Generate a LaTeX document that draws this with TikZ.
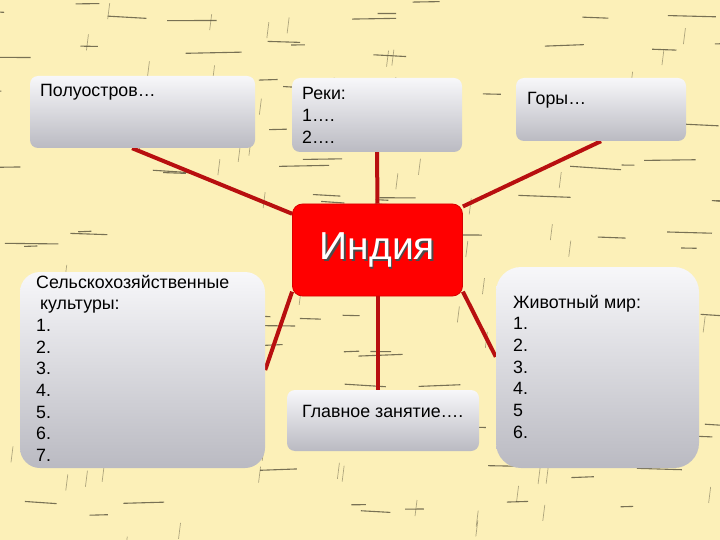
\documentclass[tikz,border=0pt]{standalone}
\usepackage{fontspec}
\setmainfont{Liberation Sans}
\usetikzlibrary{backgrounds}

\definecolor{paperbg}{rgb}{0.99,0.94,0.72}
\definecolor{sketchln}{rgb}{0.30,0.28,0.20}
\definecolor{linkred}{rgb}{0.72,0.06,0.06}
\definecolor{boxtop}{rgb}{0.97,0.97,0.98}
\definecolor{boxbot}{rgb}{0.73,0.73,0.76}

\tikzset{
    topicbox/.style={rounded corners=#1, inner sep=0pt, top color=boxtop, bottom color=boxbot, draw=none},
    topicbox/.default=8pt,
    boxtext/.style={anchor=base west, align=left, inner sep=0pt, font=\fontsize{17.8}{21.7}\selectfont},
    link/.style={line width=4pt, color=linkred},
    hline/.style={line width=1.1pt, color=sketchln, opacity=0.75},
    vtick/.style={line width=0.7pt, color=sketchln, opacity=0.45}
}

\begin{document}
\begin{tikzpicture}[x=1pt, y=-1pt]
    \useasboundingbox (0,0) rectangle (720,540);
    % paper background
    \begin{scope}[on background layer]
        \clip (0,0) rectangle (720,540);
        \fill[paperbg] (0,0) rectangle (720,540);
        \pgfmathsetseed{31}
        \foreach \row in {12,50,...,540}{
            \foreach \k in {1,...,9}{
                \pgfmathsetmacro\xa{rnd*760-30}
                \pgfmathsetmacro\ya{\row+rnd*20-10}
                \pgfmathsetmacro\len{12+rnd*45}
                \pgfmathsetmacro\tilt{rnd*0.12-0.05}
                \draw[hline] (\xa,\ya) -- ++(\len,\len*\tilt);
            }
        }
        \foreach \k in {1,...,70}{
            \pgfmathsetmacro\xb{rnd*720}
            \pgfmathsetmacro\yb{rnd*540}
            \draw[vtick] (\xb,\yb) -- ++(-2,16);
        }
    \end{scope}

    % boxes
    \node[topicbox, minimum width=225pt, minimum height=72pt] (pol) at (142.5,112) {};
    \node[topicbox, minimum width=170pt, minimum height=74pt] (rek) at (377,115) {};
    \node[topicbox, minimum width=170pt, minimum height=63pt] (gor) at (601,109.5) {};
    \node[topicbox=20pt, minimum width=245pt, minimum height=196pt] (sel) at (142.5,370) {};
    \node[topicbox, minimum width=192pt, minimum height=61pt] (glav) at (383,420.5) {};
    \node[topicbox=25pt, minimum width=203pt, minimum height=201pt] (zhiv) at (597.5,367.5) {};
    \node[rounded corners=10pt, fill=red, draw=red!85!black, line width=0.8pt,
        minimum width=170pt, minimum height=92pt, inner sep=0pt] (ind) at (377.5,250) {};

    % texts (base = last line)
    \node[boxtext] (polt) at (40,97) {Полуостров…};
    \node[boxtext] (rekt) at (302,143.4) {Реки:\\1….\\2….};
    \node[boxtext] (gort) at (527,105) {Горы…};
    \node[boxtext] (selt) at (36,461.6) {Сельскохозяйственные\\\hspace{4pt}культуры:\\1.\\2.\\3.\\4.\\5.\\6.\\7.};
    \node[boxtext] (glavt) at (302,417) {Главное занятие….};
    \node[boxtext] (zhivt) at (513,438.2) {Животный мир:\\1.\\2.\\3.\\4.\\5\\6.};
    \node[text=black!70, font=\fontsize{39}{39}\selectfont, inner sep=0pt] (indsh) at (379,251.5) {Индия};
    \node[text=white, font=\fontsize{39}{39}\selectfont, inner sep=0pt] (indt) at (377.5,250) {Индия};

    % links
    \begin{scope}[on background layer]
        \draw[link] (pol.254) -- (ind.157);
        \draw[link] (rek.south) -- (ind.north);
        \draw[link] (gor.south) -- (ind.27);
        \draw[link] (ind.206) -- (sel.east);
        \draw[link] (ind.south) -- (ind.south |- glav.north);
        \draw[link] (ind.334) -- (zhiv.174);
    \end{scope}
\end{tikzpicture}
\end{document}
